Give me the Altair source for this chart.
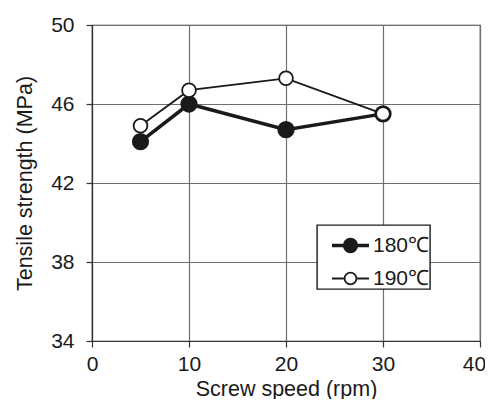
import altair as alt
import pandas as pd

speeds = [5, 10, 20, 30]
s180 = [44.1, 46.0, 44.7, 45.5]
s190 = [44.9, 46.7, 47.3, 45.5]
series_names = ["180℃", "190℃"]

rows = []
for name, vals in zip(series_names, [s180, s190]):
    for x, y in zip(speeds, vals):
        rows.append({"speed": x, "strength": y, "series": name})
df = pd.DataFrame(rows)

FONT = "Liberation Sans"
sym_path = ("M-1,0H-0.32 M0.32,0H1 "
            "M-0.32,0 A0.32,0.32 0 1,0 0.32,0 A0.32,0.32 0 1,0 -0.32,0 Z")

xenc = alt.X("speed:Q", scale=alt.Scale(domain=[0, 40]),
             axis=alt.Axis(values=[0, 10, 20, 30, 40], title="Screw speed (rpm)",
                           labelOffset={"condition": {"test": "datum.value == 40", "value": -6},
                                        "value": 0}))
yenc = alt.Y("strength:Q", scale=alt.Scale(domain=[34, 50]),
             axis=alt.Axis(values=[34, 38, 42, 46, 50], title="Tensile strength (MPa)"))

legend = alt.Legend(
    title=None, symbolType=sym_path, symbolSize=1369,
    symbolStrokeColor="#1a1a1a", symbolOpacity=1,
    labelExpr="datum.label + '     '",
)

sw = alt.StrokeWidth("series:N", scale=alt.Scale(domain=series_names, range=[3.5, 1.8]),
                     legend=legend)

lines = alt.Chart(df).mark_line(color="#1a1a1a").encode(
    x=xenc, y=yenc, detail="series:N", strokeWidth=sw
)

points = alt.Chart(df).mark_point(shape="circle", filled=False, size=190, opacity=1).encode(
    x=xenc, y=yenc,
    fill=alt.Fill("series:N", scale=alt.Scale(domain=series_names, range=["#1a1a1a", "#ffffff"]),
                  legend=legend),
    stroke=alt.Stroke("series:N", scale=alt.Scale(domain=series_names, range=["#1a1a1a", "#1a1a1a"]),
                      legend=legend),
    strokeWidth=sw,
)

chart = (lines + points).properties(
    width=388, height=316,
    autosize=alt.AutoSizeParams(type="none"),
    padding={"left": 84, "top": 17, "right": 5, "bottom": 58},
).configure_view(stroke="#333333", strokeWidth=1.2).configure_axis(
    labelFont=FONT, titleFont=FONT, labelFontSize=21, titleFontSize=21.5,
    labelColor="#1a1a1a", titleColor="#1a1a1a", titleFontWeight="normal",
    gridColor="#6e6e6e", gridWidth=1.2, gridOpacity=1,
    domainColor="#333333", domainWidth=1.2, tickColor="#333333", tickSize=6, tickWidth=1.2,
).configure_axisX(labelPadding=6, titlePadding=4, labelAngle=0, labelFlush=False
).configure_axisY(labelPadding=12, titlePadding=14
).configure_legend(
    orient="none", legendX=225, legendY=200,
    strokeColor="#1a1a1a", fillColor="#ffffff", padding=0, strokeWidth=1.4,
    labelFont=FONT, labelFontSize=21, labelColor="#1a1a1a",
    symbolOffset=13, labelOffset=2,
    rowPadding=-2, cornerRadius=0,
)

chart.save("out.html", embed_options={"renderer": "svg", "actions": False})
